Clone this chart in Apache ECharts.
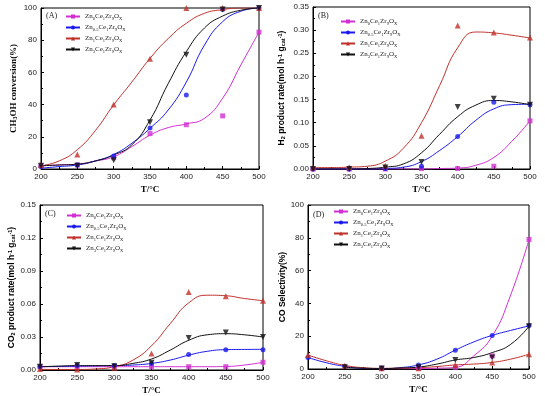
<!DOCTYPE html>
<html>
<head>
<meta charset="utf-8">
<script src="https://cdn.jsdelivr.net/npm/echarts@6/dist/echarts.min.js"></script>
<style>
  html, body { margin: 0; padding: 0; background: #fff; }
  #main { width: 545px; height: 396px; }
</style>
</head>
<body>
<div id="main"></div>
<script>
// measured temperatures and the temperatures where the fitted curves were read
var temps = [200, 250, 300, 350, 400, 450, 500];
var fitT = [200, 225, 250, 275, 300, 325, 350, 375, 400, 425, 450, 475, 500];
var names = ['Zn0Ce1Zr9OX', 'Zn0.5Ce1Zr9OX', 'Zn1Ce1Zr9OX', 'Zn3Ce1Zr9OX'];

// (A) CH3OH conversion (%)
var convPts0 = [2, 2.5, 7, 22, 27.5, 33, 85];
var convPts05 = [1.5, 2.5, 8, 25.5, 46, 99, 100];
var convPts1 = [2.5, 9, 40, 68.5, 100, 100, 100];
var convPts3 = [2, 2, 5.5, 29, 71, 99, 100];
var convFit0 = [2, 2.5, 3, 5, 7.6, 13.9, 21, 25.7, 28, 31.5, 44, 64.6, 85];
var convFit05 = [0.5, 1.5, 2.5, 5, 9, 16, 25.3, 36.6, 54, 77, 91.5, 98, 100];
var convFit1 = [2, 5, 12, 24, 39.8, 54, 68.7, 81, 90.5, 96.7, 99, 100, 100];
var convFit3 = [2, 2.5, 3, 5, 8.7, 15, 30.4, 53, 72.9, 87.6, 95, 98.6, 100];

// (B) H2 product rate
var h2Pts0 = [0, 0, 0, 0.001, 0.001, 0.006, 0.104];
var h2Pts05 = [0, 0, 0.001, 0.006, 0.07, 0.144, 0.139];
var h2Pts1 = [0.003, 0.004, 0.007, 0.072, 0.31, 0.295, 0.284];
var h2Pts3 = [0, 0, 0.003, 0.015, 0.134, 0.152, 0.139];
var h2Fit0 = [0, 0, 0, 0, 0, 0, 0, 0.001, 0.002, 0.008, 0.025, 0.06, 0.104];
var h2Fit05 = [0, 0, 0, 0, 0.001, 0.004, 0.016, 0.04, 0.07, 0.105, 0.13, 0.139, 0.14];
var h2Fit1 = [0.003, 0.003, 0.004, 0.006, 0.017, 0.045, 0.1, 0.18, 0.262, 0.296, 0.294, 0.289, 0.283];
var h2Fit3 = [0, 0, 0, 0.001, 0.004, 0.011, 0.035, 0.075, 0.113, 0.138, 0.148, 0.145, 0.139];

// (C) CO2 product rate
var co2Pts0 = [0.003, 0.003, 0.003, 0.003, 0.003, 0.003, 0.007];
var co2Pts05 = [0.003, 0.004, 0.004, 0.006, 0.014, 0.0185, 0.0185];
var co2Pts1 = [0.001, 0.0005, 0.002, 0.015, 0.071, 0.067, 0.063];
var co2Pts3 = [0.003, 0.0045, 0.0035, 0.0065, 0.029, 0.034, 0.03];
var co2Fit0 = [0.003, 0.003, 0.003, 0.003, 0.003, 0.003, 0.003, 0.003, 0.003, 0.003, 0.0032, 0.0045, 0.007];
var co2Fit05 = [0.003, 0.0033, 0.0035, 0.0038, 0.004, 0.0045, 0.006, 0.009, 0.0135, 0.017, 0.0185, 0.0187, 0.0188];
var co2Fit1 = [0.0005, 0.0005, 0.0005, 0.001, 0.003, 0.009, 0.022, 0.042, 0.061, 0.068, 0.0675, 0.065, 0.063];
var co2Fit3 = [0.003, 0.0035, 0.004, 0.004, 0.004, 0.006, 0.01, 0.018, 0.027, 0.032, 0.033, 0.032, 0.03];

// (D) CO selectivity (%)
var coPts0 = [null, null, 0.5, 0.5, 1, 8, 79];
var coPts05 = [7, 1.5, 0.5, 2.5, 11.5, 20.5, 26.5];
var coPts1 = [8.5, 2, 0.5, 0.5, 2.5, 4, 9];
var coPts3 = [null, 1, 0.3, 1, 5.5, 7, 26];
var coFit0 = [null, null, null, null, 0.3, 0.2, 0.3, 0.5, 1, 8, 20, 45, 79];
var coFit05 = [7, 3.8, 1.6, 0.4, 0.2, 0.8, 2.5, 6, 11.5, 16.5, 20.5, 23.5, 26.3];
var coFit1 = [8.5, 5, 2.2, 0.8, 0.4, 0.5, 0.8, 1.5, 2.5, 3, 4, 6, 9];
var coFit3 = [null, null, 1, 0.5, 0.3, 0.6, 1.2, 3, 5.5, 7, 10, 15, 26];

var colors = ['#d22fd2', '#1a1aee', '#c0312b', '#111111'];
var symbols = ['rect', 'circle', 'triangle', 'triangle'];
var rotates = [0, 0, 0, 180];
var sizes = [5, 5, 6, 6];

var grids = [
  { left: 41, top: 8, width: 218, height: 161 },
  { left: 313, top: 7, width: 217, height: 162 },
  { left: 40, top: 205, width: 223, height: 165 },
  { left: 308, top: 205, width: 221, height: 164 }
];

// 'Zn0.5Ce1Zr9OX' -> rich text with subscripts
function subLabel(name) {
  var m = name.match(/^Zn([\d.]+)Ce(\d)Zr(\d)OX$/);
  return '{n|Zn}{s|' + m[1] + '}{n|Ce}{s|' + m[2] + '}{n|Zr}{s|' + m[3] + '}{n|O}{s|X}';
}

function pairs(xs, ys) {
  return xs.map(function (x, i) { return [x, ys[i]]; });
}

var series = [];
function addPanel(idx, pts, fits) {
  for (var i = 0; i < 4; i++) {
    series.push({
      name: names[i], type: 'line', xAxisIndex: idx, yAxisIndex: idx,
      smooth: 0.5, showSymbol: false, symbol: symbols[i], symbolSize: sizes[i], symbolRotate: rotates[i],
      color: colors[i], lineStyle: { width: 1 },
      data: pairs(fitT, fits[i]), z: 2
    });
  }
  for (var j = 0; j < 4; j++) {
    series.push({
      name: names[j], type: 'scatter', xAxisIndex: idx, yAxisIndex: idx,
      symbol: symbols[j], symbolSize: sizes[j], symbolRotate: rotates[j],
      color: colors[j], data: pairs(temps, pts[j]).filter(function (p) { return p[1] != null; }), z: 3
    });
  }
}
addPanel(0, [convPts0, convPts05, convPts1, convPts3], [convFit0, convFit05, convFit1, convFit3]);
addPanel(1, [h2Pts0, h2Pts05, h2Pts1, h2Pts3], [h2Fit0, h2Fit05, h2Fit1, h2Fit3]);
addPanel(2, [co2Pts0, co2Pts05, co2Pts1, co2Pts3], [co2Fit0, co2Fit05, co2Fit1, co2Fit3]);
addPanel(3, [coPts0, coPts05, coPts1, coPts3], [coFit0, coFit05, coFit1, coFit3]);

var nameRich = {
  b: { fontSize: 8.5, fontWeight: 'bold', fontFamily: 'Liberation Sans' },
  bs: { fontSize: 5.5, fontWeight: 'bold', fontFamily: 'Liberation Sans', verticalAlign: 'bottom', lineHeight: 6 },
  bp: { fontSize: 5.5, fontWeight: 'bold', fontFamily: 'Liberation Sans', verticalAlign: 'top', lineHeight: 6 },
  t: { fontSize: 9, fontWeight: 'bold', fontFamily: 'Liberation Serif' },
  ts: { fontSize: 6, fontWeight: 'bold', fontFamily: 'Liberation Serif', verticalAlign: 'bottom', lineHeight: 6 }
};

var yNames = [
  '{t|CH}{ts|3}{t|OH conversion(%)}',
  '{b|H}{bs|2}{b| product rate(mol h}{bp|-1}{b| g}{bs|cat}{bp|-1}{b|)}',
  '{b|CO}{bs|2}{b| product rate(mol h}{bp|-1}{b| g}{bs|cat}{bp|-1}{b|)}',
  '{b|CO Selectivity(%)}'
];
var yMax = [100, 0.35, 0.15, 100];
var yStep = [20, 0.05, 0.03, 20];
var yGap = [23, 27, 23, 18];

var xAxes = [], yAxes = [], legends = [], titles = [];
var letters = ['(A)', '(B)', '(C)', '(D)'];
var legendPos = [[65, 13], [340, 18], [66, 212], [333, 208]];
var titlePos = [[46, 12], [318, 12], [45, 210], [313, 211]];

for (var k = 0; k < 4; k++) {
  xAxes.push({
    type: 'value', gridIndex: k, min: 200, max: 500, interval: 50,
    name: '{t|T/°C}', nameLocation: 'middle', nameGap: 16,
    nameTextStyle: { rich: nameRich },
    axisLine: { lineStyle: { color: '#000', width: 1 } },
    axisTick: { inside: true, length: 3, lineStyle: { color: '#000' } },
    minorTick: { show: true, splitNumber: 2, length: 2, lineStyle: { color: '#000' } },
    axisLabel: { fontSize: 8, color: '#222', margin: 4, fontFamily: 'Liberation Sans' },
    splitLine: { show: false }
  });
  yAxes.push({
    type: 'value', gridIndex: k, min: 0, max: yMax[k], interval: yStep[k],
    name: yNames[k], nameLocation: 'middle', nameGap: yGap[k],
    nameTextStyle: { rich: nameRich },
    axisLine: { show: true, lineStyle: { color: '#000', width: 1 } },
    axisTick: { show: true, inside: true, length: 3, lineStyle: { color: '#000' } },
    minorTick: { show: true, splitNumber: 2, length: 2, lineStyle: { color: '#000' } },
    axisLabel: {
      fontSize: 8, color: '#222', margin: 4, fontFamily: 'Liberation Sans',
      formatter: (function (step) {
        return function (v) { return step < 1 ? v.toFixed(2) : String(v); };
      })(yStep[k])
    },
    splitLine: { show: false }
  });
  legends.push({
    data: names, left: legendPos[k][0], top: legendPos[k][1], orient: 'vertical',
    itemWidth: 14, itemHeight: 5, itemGap: 3, padding: 0,
    formatter: subLabel,
    textStyle: {
      color: '#222',
      rich: {
        n: { fontSize: 7, fontFamily: 'Liberation Serif', color: '#222', lineHeight: 9 },
        s: { fontSize: 4.5, fontFamily: 'Liberation Serif', color: '#222', verticalAlign: 'bottom', lineHeight: 5 }
      }
    }
  });
  titles.push({
    text: letters[k], left: titlePos[k][0], top: titlePos[k][1], padding: 0,
    textStyle: { fontSize: 8, fontWeight: 'normal', fontFamily: 'Liberation Serif', color: '#222' }
  });
}

var myChart = echarts.init(document.getElementById('main'));
myChart.setOption({
  animation: false,
  backgroundColor: '#fff',
  title: titles,
  legend: legends,
  grid: grids.map(function (g) {
    return { left: g.left, top: g.top, width: g.width, height: g.height, show: true, borderColor: '#000', borderWidth: 1, backgroundColor: 'transparent' };
  }),
  xAxis: xAxes,
  yAxis: yAxes,
  series: series
});
</script>
</body>
</html>
